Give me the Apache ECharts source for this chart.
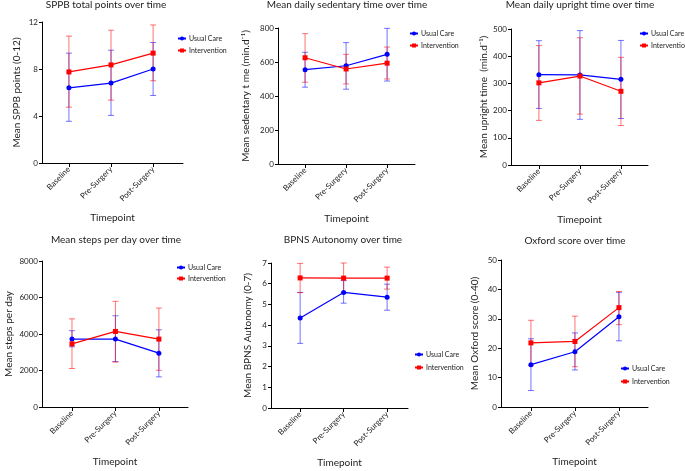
<!DOCTYPE html>
<html>
<head>
<meta charset="utf-8">
<script src="https://cdn.jsdelivr.net/npm/echarts@6/dist/echarts.min.js"></script>
<style>
html,body{margin:0;padding:0;background:#fff;}
#c{width:685px;height:471px;}
</style>
</head>
<body>
<div id="c"></div>
<script>
const categories = ['Baseline', 'Pre-Surgery', 'Post-Surgery'];
const seriesNames = ['Usual Care', 'Intervention'];

const titles = ['SPPB total points over time', 'Mean daily sedentary time over time', 'Mean daily upright time over time',
  'Mean steps per day over time', 'BPNS Autonomy over time', 'Oxford score over time'];
const yNames = ['Mean SPPB points (0-12)', 'Mean sedentary t me (min.d\u207B\u00B9)', 'Mean upright time  (min.d\u207B\u00B9)',
  'Mean steps per day', 'Mean BPNS Autonomy (0-7)', 'Mean Oxford score (0-40)'];
const yMax = [12, 800, 500, 8000, 7, 50];
const yInterval = [4, 200, 100, 2000, 1, 10];

// SPPB
const sppbUsual = [6.4, 6.8, 8.0];
const sppbUsualLow = [3.55, 4.05, 5.75];
const sppbUsualHigh = [9.35, 9.6, 10.25];
const sppbInt = [7.75, 8.35, 9.35];
const sppbIntLow = [4.75, 5.35, 7.0];
const sppbIntHigh = [10.8, 11.3, 11.75];

// Sedentary time
const sedUsual = [555, 578, 645];
const sedUsualLow = [452, 440, 488];
const sedUsualHigh = [657, 714, 798];
const sedInt = [625, 559, 593];
const sedIntLow = [481, 471, 500];
const sedIntHigh = [767, 645, 688];

// Upright time
const upUsual = [332, 331, 315];
const upUsualLow = [208, 168, 171];
const upUsualHigh = [457, 494, 458];
const upInt = [302, 327, 271];
const upIntLow = [164, 187, 145];
const upIntHigh = [439, 468, 396];

// Steps
const stepsUsual = [3720, 3720, 2950];
const stepsUsualLow = [3300, 2490, 1650];
const stepsUsualHigh = [4180, 5000, 4230];
const stepsInt = [3460, 4140, 3720];
const stepsIntLow = [2110, 2460, 2010];
const stepsIntHigh = [4830, 5790, 5420];

// BPNS Autonomy
const bpnsUsual = [4.35, 5.58, 5.35];
const bpnsUsualLow = [3.12, 5.06, 4.72];
const bpnsUsualHigh = [5.58, 6.15, 5.98];
const bpnsInt = [6.28, 6.27, 6.27];
const bpnsIntLow = [5.57, 5.55, 5.74];
const bpnsIntHigh = [6.98, 7.0, 6.8];

// Oxford
const oxUsual = [14.4, 18.8, 30.7];
const oxUsualLow = [5.6, 12.6, 22.5];
const oxUsualHigh = [23.2, 25.2, 39.0];
const oxInt = [21.8, 22.3, 33.8];
const oxIntLow = [14.1, 13.7, 28.0];
const oxIntHigh = [29.5, 30.9, 39.3];

const panels = [
  [sppbUsual, sppbUsualLow, sppbUsualHigh, sppbInt, sppbIntLow, sppbIntHigh],
  [sedUsual, sedUsualLow, sedUsualHigh, sedInt, sedIntLow, sedIntHigh],
  [upUsual, upUsualLow, upUsualHigh, upInt, upIntLow, upIntHigh],
  [stepsUsual, stepsUsualLow, stepsUsualHigh, stepsInt, stepsIntLow, stepsIntHigh],
  [bpnsUsual, bpnsUsualLow, bpnsUsualHigh, bpnsInt, bpnsIntLow, bpnsIntHigh],
  [oxUsual, oxUsualLow, oxUsualHigh, oxInt, oxIntLow, oxIntHigh]
];

// layout (pixels)
const grids = [
  {left: 42, top: 22, width: 141, height: 141},
  {left: 278, top: 28, width: 137, height: 136},
  {left: 511, top: 29, width: 137, height: 136},
  {left: 42, top: 261, width: 146, height: 146},
  {left: 271, top: 263, width: 137, height: 145},
  {left: 501, top: 260, width: 147, height: 147}
];
const xRange = [[-0.64, 2.71], [-0.66, 2.68], [-0.68, 2.66], [-0.69, 2.67], [-0.67, 2.48], [-0.68, 2.66]];
const titlePos = [[106, 0], [347, 0], [580, 0], [116, 235], [343, 235], [575, 236]];
const yNameGap = [20, 27, 22, 28, 18, 21];
const legendPos = [[177, 35], [409, 30], [639, 30], [176, 264], [414, 351], [620, 365]];
const legendGap = [5, 5, 5, 4, 6, 6];

const FONT = 'Lato';
const BLUE = '#0000ff';
const RED = '#ff0000';
const colors = [BLUE, RED];

function errRender(color) {
  return function (params, api) {
    const x = api.value(0);
    const p1 = api.coord([x, api.value(1)]);
    const p2 = api.coord([x, api.value(2)]);
    const cw = 3;
    const style = {stroke: color, lineWidth: 1, opacity: 0.55};
    return {
      type: 'group',
      children: [
        {type: 'line', shape: {x1: p1[0], y1: p1[1], x2: p2[0], y2: p2[1]}, style: style},
        {type: 'line', shape: {x1: p1[0] - cw, y1: p1[1], x2: p1[0] + cw, y2: p1[1]}, style: style},
        {type: 'line', shape: {x1: p2[0] - cw, y1: p2[1], x2: p2[0] + cw, y2: p2[1]}, style: style}
      ]
    };
  };
}

const option = {
  animation: false,
  backgroundColor: '#fff',
  textStyle: {fontFamily: FONT},
  title: titles.map((t, i) => ({
    text: t, left: titlePos[i][0], top: titlePos[i][1], textAlign: 'center', padding: 0,
    textStyle: {fontFamily: FONT, fontSize: 10, fontWeight: 'normal', color: '#222'}
  })),
  legend: legendPos.map((p, i) => ({
    data: seriesNames, orient: 'vertical', left: p[0], top: p[1], itemGap: legendGap[i],
    itemWidth: 8, itemHeight: 5, padding: 0, selectedMode: false,
    textStyle: {fontFamily: FONT, fontSize: 7, color: '#222', padding: [0, 0, 0, -2]}
  })),
  grid: grids.map(g => Object.assign({containLabel: false}, g)),
  xAxis: grids.map((g, i) => ({
    type: 'value', gridIndex: i, min: xRange[i][0], max: xRange[i][1],
    name: 'Timepoint', nameLocation: 'middle', nameGap: 50,
    nameTextStyle: {fontFamily: FONT, fontSize: 10, color: '#222'},
    splitLine: {show: false},
    axisLine: {show: true, onZero: false, lineStyle: {color: '#000', width: 1}},
    axisTick: {show: true, customValues: [0, 1, 2], length: 4, lineStyle: {color: '#000'}},
    axisLabel: {
      customValues: [0, 1, 2], rotate: 45, fontSize: 8, color: '#222', fontFamily: FONT, margin: 5,
      formatter: v => categories[Math.round(v)]
    }
  })),
  yAxis: grids.map((g, i) => ({
    type: 'value', gridIndex: i, min: 0, max: yMax[i], interval: yInterval[i],
    name: yNames[i], nameLocation: 'middle', nameGap: yNameGap[i], nameRotate: 90,
    nameTextStyle: {fontFamily: FONT, fontSize: 10, color: '#222'},
    splitLine: {show: false},
    axisLine: {show: true, onZero: false, lineStyle: {color: '#000', width: 1}},
    axisTick: {show: true, length: 3, lineStyle: {color: '#000'}},
    axisLabel: {fontSize: 8, color: '#222', fontFamily: FONT, margin: 4, formatter: v => String(v)}
  })),
  series: []
};

panels.forEach((p, i) => {
  [0, 1].forEach(s => {
    const low = p[s * 3 + 1], high = p[s * 3 + 2];
    option.series.push({
      type: 'custom', xAxisIndex: i, yAxisIndex: i, silent: true,
      renderItem: errRender(colors[s]),
      data: categories.map((c, k) => [k, low[k], high[k]]),
      z: 2
    });
  });
  [0, 1].forEach(s => {
    const mean = p[s * 3];
    option.series.push({
      name: seriesNames[s], type: 'line', xAxisIndex: i, yAxisIndex: i,
      data: categories.map((c, k) => [k, mean[k]]),
      symbol: s === 0 ? 'circle' : 'rect', symbolSize: 5,
      itemStyle: {color: colors[s]},
      lineStyle: {color: colors[s], width: 1.2},
      z: 3
    });
  });
});

const chart = echarts.init(document.getElementById('c'), null, {renderer: 'canvas'});
chart.setOption(option);
</script>
</body>
</html>
